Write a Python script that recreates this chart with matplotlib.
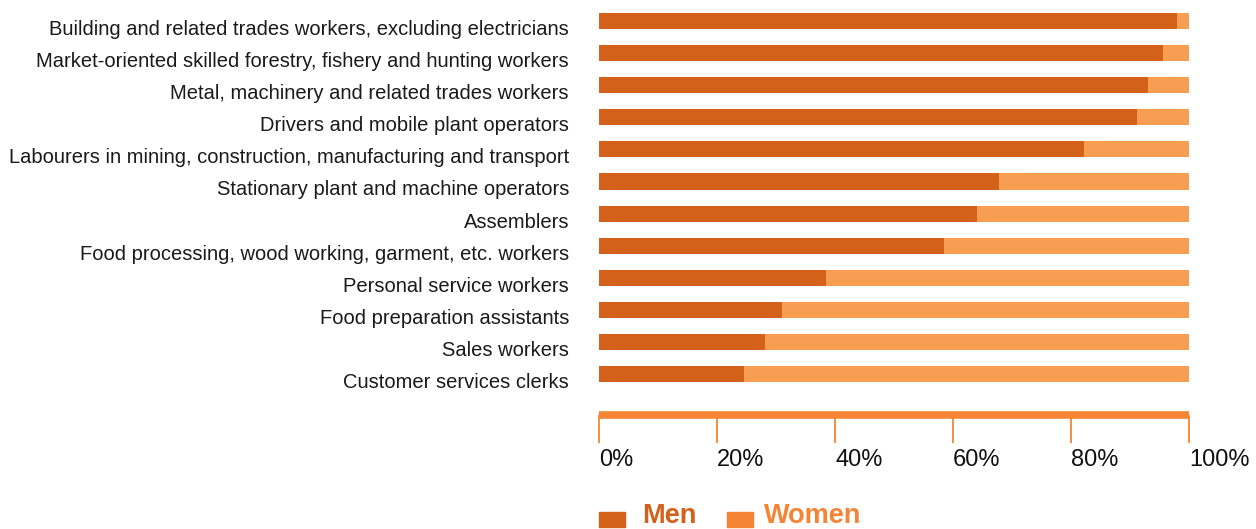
import matplotlib.pyplot as plt
import matplotlib.transforms as mtransforms
from matplotlib.patches import Rectangle

plt.rcParams['font.family'] = ['Liberation Sans', 'DejaVu Sans']

# data (share of employment, %)
categories = [
    "Building and related trades workers, excluding electricians",
    "Market-oriented skilled forestry, fishery and hunting workers",
    "Metal, machinery and related trades workers",
    "Drivers and mobile plant operators",
    "Labourers in mining, construction, manufacturing and transport",
    "Stationary plant and machine operators",
    "Assemblers",
    "Food processing, wood working, garment, etc. workers",
    "Personal service workers",
    "Food preparation assistants",
    "Sales workers",
    "Customer services clerks",
]
men = [98.0, 95.6, 93.1, 91.2, 82.2, 67.8, 64.1, 58.5, 38.5, 31.0, 28.1, 24.6]
women = [100 - m for m in men]
xticks = [0, 20, 40, 60, 80, 100]
xtick_labels = ["0%", "20%", "40%", "60%", "80%", "100%"]

MEN_C = "#d3611a"
WOMEN_C = "#f79e53"
AXIS_C = "#f58534"

W, H = 1256, 529
fig = plt.figure(figsize=(W / 100, H / 100), dpi=100)
ax = fig.add_axes([599 / W, (H - 414.5) / H, 590 / W, 414.5 / H])

y = list(range(len(categories)))
ax.barh(y, men, height=0.5, color=MEN_C)
ax.barh(y, women, left=men, height=0.5, color=WOMEN_C)

ax.set_xlim(0, 100)
ax.set_ylim(12.26, -0.654)
ax.set_yticks(y)
ax.set_yticklabels(categories, fontsize=14.5, color="#1a1a1a")
ax.tick_params(axis="y", length=0, pad=21.6)
# labels sit a little below the bar centres
shift = mtransforms.ScaledTranslation(0, -0.065, fig.dpi_scale_trans)
for lbl in ax.get_yticklabels():
    lbl.set_transform(lbl.get_transform() + shift)

ax.set_xticks(xticks)
ax.set_xticklabels(xtick_labels, fontsize=17, color="#111111", ha="left")
ax.tick_params(axis="x", direction="out", length=20, width=1.3, color=AXIS_C, pad=5)

for s in ["top", "right", "left"]:
    ax.spines[s].set_visible(False)
ax.spines["bottom"].set_color(AXIS_C)
ax.spines["bottom"].set_linewidth(5.5)
ax.spines["bottom"].set_capstyle("butt")

# legend
fig.patches.append(Rectangle((599 / W, (H - 527) / H), 26 / W, 15 / H,
                             transform=fig.transFigure, color=MEN_C))
fig.text(642 / W, 6 / H, "Men", fontsize=19.5, fontweight="bold", color=MEN_C,
         va="baseline")
fig.patches.append(Rectangle((727 / W, (H - 527) / H), 26 / W, 15 / H,
                             transform=fig.transFigure, color=AXIS_C))
fig.text(764 / W, 6 / H, "Women", fontsize=19.5, fontweight="bold", color=AXIS_C,
         va="baseline")

fig.savefig("out.png", dpi=100)
